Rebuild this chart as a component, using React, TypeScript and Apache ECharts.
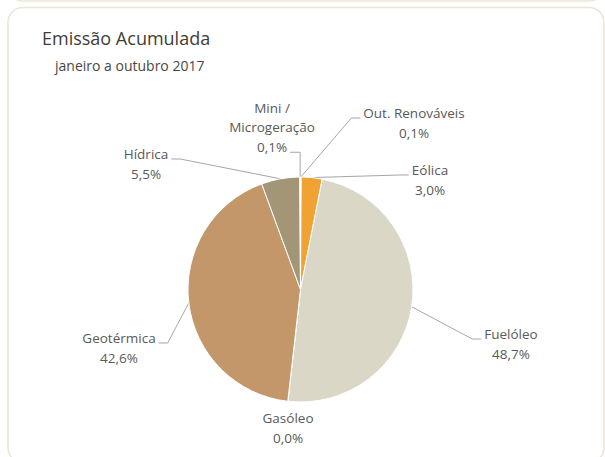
import React, { useEffect, useRef } from "react";
import * as echarts from "echarts";

const categories = [
  "Out. Renováveis",
  "Eólica",
  "Fuelóleo",
  "Gasóleo",
  "Geotérmica",
  "Hídrica",
  "Mini /\nMicrogeração",
];
const values = [0.1, 3.0, 48.7, 0.0, 42.6, 5.5, 0.1];
const sliceColors = ["#7a6f55", "#f0a232", "#dbd7c7", "#9a9a9a", "#c4976b", "#a39677", "#d6c49c"];
const titleText = "Emissão Acumulada";
const subtitleText = "janeiro a outubro 2017";

// label layout (box centre) and side where the leader line attaches
const labelPlacement = [
  { x: 414, y: 123, side: "left" },
  { x: 430, y: 180, side: "left" },
  { x: 511, y: 344, side: "left" },
  { x: 288, y: 428, side: "none" },
  { x: 119, y: 348, side: "right" },
  { x: 146, y: 164, side: "right" },
  { x: 272, y: 127, side: "bottom" },
];

const CX = 300.5;
const CY = 289.5;
const R = 112.5;

function fmt(v: number) {
  return v.toFixed(1).replace(".", ",") + "%";
}

export default function App() {
  const ref = useRef<HTMLDivElement>(null);
  useEffect(() => {
    if (!ref.current) return;
    const chart = echarts.init(ref.current, null, { renderer: "svg" });
    const total = values.reduce((a, b) => a + b, 0);
    const cum: number[] = [];
    let acc = 0;
    values.forEach((v) => {
      cum.push(acc);
      acc += v;
    });
    const border = "#ebe6d5";
    chart.setOption({
      animation: false,
      backgroundColor: "#ffffff",
      title: [
        {
          text: titleText,
          left: 37,
          top: 24,
          textStyle: { fontFamily: "Open Sans", fontSize: 18, fontWeight: "normal", color: "#403d38" },
        },
        {
          text: subtitleText,
          left: 50,
          top: 53,
          textStyle: { fontFamily: "Open Sans", fontSize: 14, fontWeight: "normal", color: "#4a4743" },
        },
      ],
      graphic: [
        {
          type: "rect",
          silent: true,
          shape: { x: 8, y: -470, width: 596, height: 471, r: 15 },
          style: { fill: "none", stroke: border, lineWidth: 1.6 },
        },
        {
          type: "rect",
          silent: true,
          shape: { x: 8, y: 7.5, width: 596, height: 455, r: 15 },
          style: { fill: "none", stroke: border, lineWidth: 1.6 },
        },
      ],
      series: [
        {
          type: "pie",
          center: [CX, CY],
          radius: R,
          startAngle: 90,
          clockwise: true,
          avoidLabelOverlap: false,
          emphasis: { disabled: true },
          itemStyle: { borderColor: "#ffffff", borderWidth: 1 },
          label: {
            show: true,
            position: "outside",
            fontFamily: "Open Sans",
            fontSize: 13.5,
            lineHeight: 19.5,
            color: "#595959",
            align: "center",
            formatter: (p: any) => `${p.name}\n${fmt(p.value)}`,
          },
          labelLine: {
            show: true,
            lineStyle: { color: "#a6a6a6", width: 1 },
          },
          labelLayout: (params: any) => {
            const i = params.dataIndex;
            const c = labelPlacement[i];
            const w = params.labelRect.width;
            const h = params.labelRect.height;
            const a = (2 * Math.PI * (cum[i] + values[i] / 2)) / total;
            const mid = [CX + R * Math.sin(a), CY - R * Math.cos(a)];
            let pts: number[][] | undefined;
            if (c.side === "left") {
              const end = [c.x - w / 2 - 3, c.y - 5];
              pts = [mid, [end[0] - 9, end[1]], end];
            } else if (c.side === "right") {
              const end = [c.x + w / 2 + 3, c.y - 5];
              pts = [mid, [end[0] + 9, end[1]], end];
            } else if (c.side === "bottom") {
              const end = [c.x + 18, c.y + h / 2 - 4];
              pts = [mid, [mid[0], end[1]], end];
            }
            const out: any = { x: c.x, y: c.y, align: "center", verticalAlign: "middle" };
            if (pts) out.labelLinePoints = pts;
            return out;
          },
          data: categories.map((name, i) => ({
            name,
            value: values[i],
            itemStyle: { color: sliceColors[i] },
            labelLine: { show: labelPlacement[i].side !== "none" },
          })),
        },
      ],
    });
    return () => chart.dispose();
  }, []);
  return (
    <div
      ref={ref}
      style={{ position: "absolute", left: 0, top: 0, width: 605, height: 457 }}
    />
  );
}
